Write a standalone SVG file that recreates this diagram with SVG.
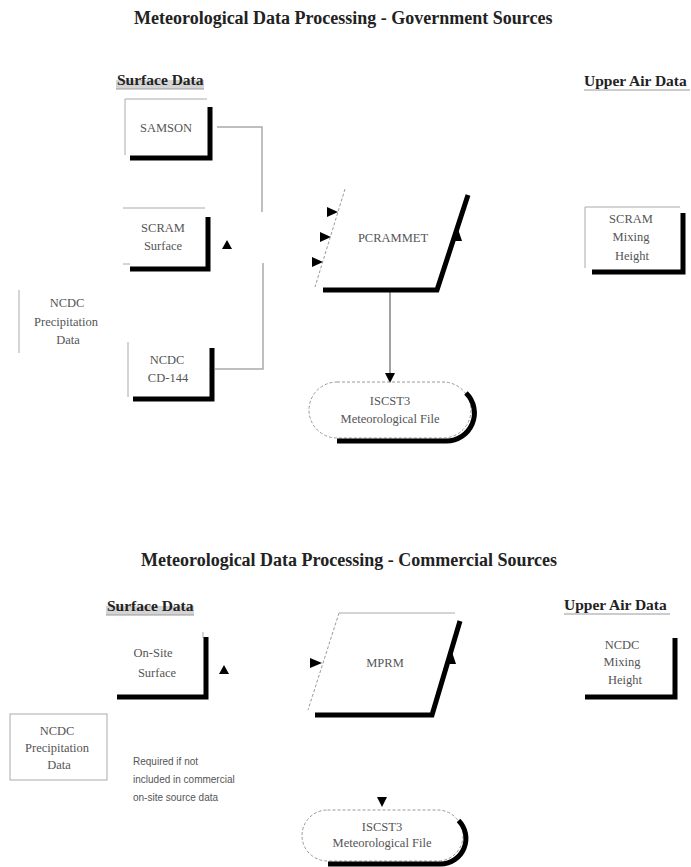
<svg xmlns="http://www.w3.org/2000/svg" width="691" height="867" viewBox="0 0 691 867">
<style>
.title{font-family:"Liberation Serif",serif;font-weight:bold;font-size:18px;fill:#222}
.hdr{font-family:"Liberation Serif",serif;font-weight:bold;font-size:15.5px;fill:#222}
.lbl{font-family:"Liberation Serif",serif;font-size:12.5px;fill:#555;text-anchor:middle}
.note{font-family:"Liberation Sans",sans-serif;font-size:10px;fill:#555}
.thin{stroke:#aaa;stroke-width:1;fill:none}
.dash{stroke:#999;stroke-width:1;fill:none;stroke-dasharray:3 2}
.shadow{stroke:#000;stroke-width:5;fill:none;stroke-linejoin:miter}
.conn{stroke:#aaa;stroke-width:1.5;fill:none}
.arr{fill:#000}
.hl{fill:#d4d4d4}
.ul{stroke:#999;stroke-width:1}
</style>
<rect width="691" height="867" fill="#fff"/>

<text class="title" x="134" y="24">Meteorological Data Processing - Government Sources</text>
<g id="hdr-surface-gov"><rect class="hl" x="116" y="80" width="88" height="9"/><text class="hdr" x="117" y="85">Surface Data</text><line class="ul" x1="116" y1="89" x2="204" y2="89"/></g>
<g id="hdr-upper-gov"><text class="hdr" x="584" y="86">Upper Air Data</text><line class="ul" x1="584" y1="90" x2="690" y2="90"/></g>

<g id="connectors">
<polyline class="conn" points="217,127 262,127 262,212"/>
<polyline class="conn" points="215,369 263,369 263,263"/>
<polygon class="arr" points="222,249 232,249 227,240"/>
<polygon class="arr" points="327,207 338,212 327,217"/>
<polygon class="arr" points="320,232 331,237 320,242"/>
<polygon class="arr" points="312,257 323,262 312,267"/>
<polygon class="arr" points="453,241 462,241 458,229"/>
<line x1="390" y1="292" x2="390" y2="374" stroke="#444" stroke-width="1"/>
<polygon class="arr" points="385,373 395,373 390,383"/>
<polygon class="arr" points="219,674 229,674 224,665"/>
<polygon class="arr" points="310,658 322,663 310,668"/>
<polygon class="arr" points="446,664 456,664 452,652"/>
<polygon class="arr" points="377,797 387,797 382,807"/>
</g>

<g id="samson">
<polyline class="thin" points="207,99 125,99 125,155"/>
<path class="shadow" d="M130,158 H210 V107"/>
<text class="lbl" x="166" y="132">SAMSON</text>
</g>

<g id="scram-surface">
<line class="thin" x1="123" y1="208" x2="205" y2="208"/>
<line class="thin" x1="123" y1="264" x2="130" y2="264"/>
<path class="shadow" d="M130,269 H208 V217"/>
<text class="lbl" x="163" y="232">SCRAM</text>
<text class="lbl" x="163" y="250">Surface</text>
</g>

<g id="pcrammet">
<line class="dash" x1="345" y1="189" x2="315" y2="287"/>
<path class="shadow" d="M323,290 H437 L468,195" stroke-width="6"/>
<text class="lbl" x="393" y="242">PCRAMMET</text>
</g>

<g id="iscst3-gov">
<rect class="dash" x="309" y="382" width="162" height="56" rx="28" ry="28"/>
<path class="shadow" d="M337,441 H446 A28,28 0 0,0 466,393"/>
<text class="lbl" x="390" y="405">ISCST3</text>
<text class="lbl" x="390" y="423">Meteorological File</text>
</g>

<g id="scram-mixing">
<polyline class="thin" points="680,207 585,207 585,268"/>
<path class="shadow" d="M592,272 H683 V213"/>
<text class="lbl" x="631" y="223">SCRAM</text>
<text class="lbl" x="631" y="241">Mixing</text>
<text class="lbl" x="632" y="260">Height</text>
</g>

<g id="ncdc-precip-gov">
<line class="thin" x1="19" y1="290" x2="19" y2="353"/>
<text class="lbl" x="67" y="307">NCDC</text>
<text class="lbl" x="66" y="326">Precipitation</text>
<text class="lbl" x="68" y="344">Data</text>
</g>

<g id="ncdc-cd144">
<line class="thin" x1="128" y1="342" x2="128" y2="397"/>
<path class="shadow" d="M133,399 H212 V348"/>
<text class="lbl" x="167" y="364">NCDC</text>
<text class="lbl" x="168" y="382">CD-144</text>
</g>

<text class="title" x="141" y="566">Meteorological Data Processing - Commercial Sources</text>
<g id="hdr-surface-com"><rect class="hl" x="106" y="606" width="88" height="9"/><text class="hdr" x="107" y="611">Surface Data</text><line class="ul" x1="106" y1="615" x2="194" y2="615"/></g>
<g id="hdr-upper-com"><text class="hdr" x="564" y="610">Upper Air Data</text><line class="ul" x1="564" y1="614" x2="670" y2="614"/></g>

<g id="onsite-surface">
<line class="thin" x1="203" y1="632" x2="203" y2="638"/>
<path class="shadow" d="M117,697 H206 V637"/>
<text class="lbl" x="153" y="657">On-Site</text>
<text class="lbl" x="157" y="677">Surface</text>
</g>

<g id="mprm">
<line class="thin" x1="339" y1="613" x2="455" y2="613"/>
<line class="dash" x1="339" y1="613" x2="308" y2="710"/>
<path class="shadow" d="M315,715 H432 L460,621" stroke-width="6"/>
<text class="lbl" x="385" y="667">MPRM</text>
</g>

<g id="ncdc-mixing">
<path class="shadow" d="M585,697 H675 V638"/>
<text class="lbl" x="622" y="649">NCDC</text>
<text class="lbl" x="622" y="666">Mixing</text>
<text class="lbl" x="625" y="684">Height</text>
</g>

<g id="ncdc-precip-com">
<rect class="thin" x="10" y="714" width="97" height="66"/>
<text class="lbl" x="57" y="735">NCDC</text>
<text class="lbl" x="57" y="752">Precipitation</text>
<text class="lbl" x="59" y="769">Data</text>
</g>

<g id="note">
<text class="note" x="133" y="765">Required if not</text>
<text class="note" x="133" y="783">included in commercial</text>
<text class="note" x="133" y="801">on-site source data</text>
</g>

<g id="iscst3-com">
<rect class="dash" x="302" y="810" width="161" height="51" rx="25.5" ry="25.5"/>
<path class="shadow" d="M328,864 H440.5 A25.5,25.5 0 0,0 458.5,820.5"/>
<text class="lbl" x="382" y="831">ISCST3</text>
<text class="lbl" x="382" y="847">Meteorological File</text>
</g>
</svg>
